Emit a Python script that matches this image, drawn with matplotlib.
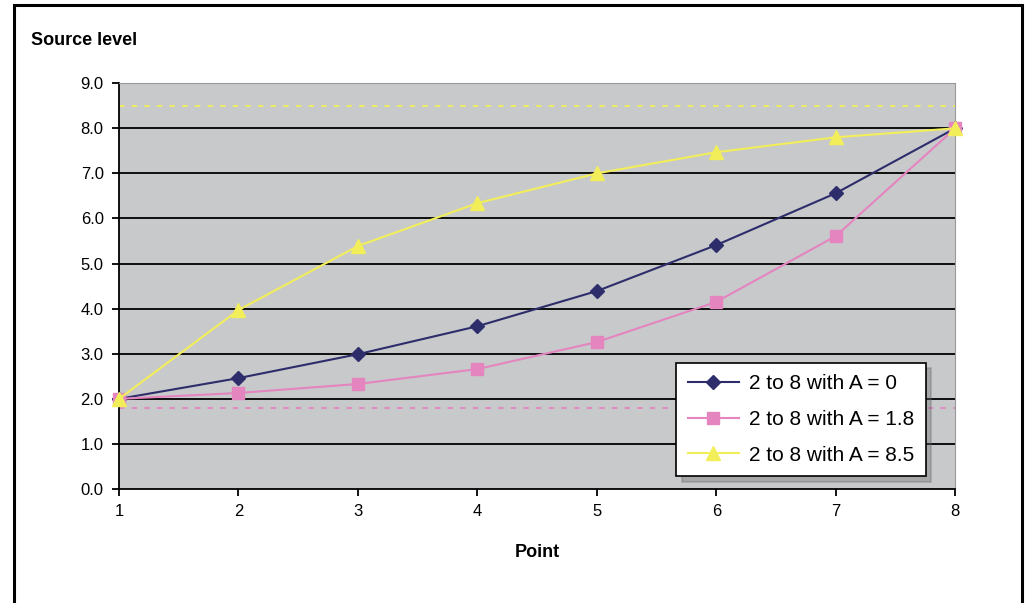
import numpy as np
import matplotlib
matplotlib.use("Agg")
from matplotlib import pyplot as plt
from matplotlib.patches import Rectangle

# chart values
points = [1, 2, 3, 4, 5, 6, 7, 8]
level_a0 = [2.0, 2.46, 2.99, 3.61, 4.39, 5.41, 6.56, 8.0]
level_a18 = [2.0, 2.13, 2.33, 2.66, 3.26, 4.15, 5.61, 8.0]
level_a85 = [2.0, 3.97, 5.39, 6.34, 7.0, 7.47, 7.80, 8.0]
asymptote_a18 = 1.8
asymptote_a85 = 8.5
labels = ["2 to 8 with A = 0", "2 to 8 with A = 1.8", "2 to 8 with A = 8.5"]

plt.rcParams['font.family'] = ['Liberation Sans', 'DejaVu Sans']

fig = plt.figure(figsize=(10.26, 6.03), dpi=100)
ax = fig.add_axes([0.116, 0.189, 0.815, 0.673])
ax.set_facecolor("#C8C9CB")

# frame around the whole chart
fig.patches.append(Rectangle((0.014, -0.05), 0.982, 1.042, transform=fig.transFigure,
                             fill=False, edgecolor="black", linewidth=2.2))

for y in range(1, 9):
    ax.axhline(y, color="black", linewidth=1.3, zorder=1)

ax.axhline(asymptote_a85, color="#F2EE5A", linestyle=(0, (3, 4)), linewidth=1.3, zorder=1)
ax.axhline(asymptote_a18, color="#E485C0", linestyle=(0, (3, 4)), linewidth=1.3, zorder=1)

ax.plot(points, level_a0, color="#2E2D6B", marker="D", markersize=7, linewidth=1.5,
        label=labels[0], zorder=3, clip_on=False)
ax.plot(points, level_a18, color="#E485C0", marker="s", markersize=8, linewidth=1.5,
        label=labels[1], zorder=3, clip_on=False)
ax.plot(points, level_a85, color="#F2EE5A", marker="^", markersize=10, linewidth=1.5,
        label=labels[2], zorder=4, clip_on=False)

ax.set_xlim(1, 8)
ax.set_ylim(0, 9)
ax.set_xticks(points)
ax.set_yticks(np.arange(0, 9.5, 1.0))
ax.set_yticklabels(["%.1f" % v for v in np.arange(0, 9.5, 1.0)])
ax.tick_params(direction="out", length=5, width=1.3, labelsize=12, pad=6)

for side in ["top", "right"]:
    ax.spines[side].set_color("#999999")
for side in ["left", "bottom"]:
    ax.spines[side].set_color("black")
    ax.spines[side].set_linewidth(1.3)

ax.set_xlabel("Point", fontsize=13, fontweight="bold", labelpad=18)
fig.text(0.03, 0.925, "Source level", fontsize=13, fontweight="bold")

leg = ax.legend(loc="lower right", bbox_to_anchor=(0.965, 0.032), fontsize=15,
                frameon=True, fancybox=False, borderpad=0.55, borderaxespad=0,
                handlelength=2.45, handletextpad=0.5, labelspacing=0.8,
                shadow={"ox": 4, "oy": -4, "color": "#666666", "alpha": 0.35})
leg.get_frame().set_edgecolor("black")
leg.get_frame().set_linewidth(1.2)

fig.savefig("out.png", dpi=100)
